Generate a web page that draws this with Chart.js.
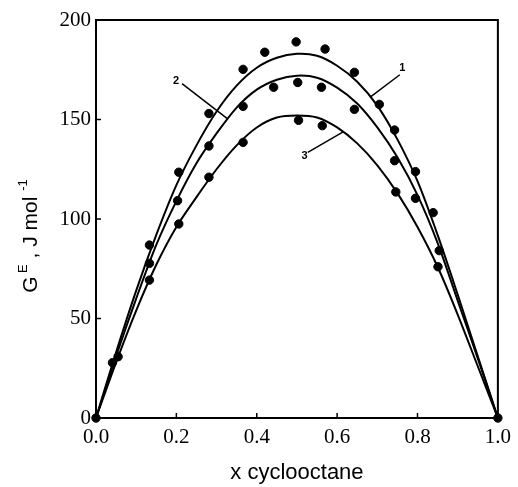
<!DOCTYPE html>
<html>
<head>
<meta charset="utf-8">
<script src="https://cdn.jsdelivr.net/npm/chart.js@4/dist/chart.umd.min.js"></script>
<style>
  html, body { margin: 0; padding: 0; background: #fff; }
  #wrap { width: 518px; height: 487px; }
</style>
</head>
<body>
<div id="wrap"><canvas id="myChart"></canvas></div>
<script>
// mole fraction grid for the fitted curves
const curveX = [0, 0.05, 0.1, 0.15, 0.2, 0.25, 0.3, 0.35, 0.4, 0.45, 0.5, 0.55, 0.6, 0.65, 0.7, 0.75, 0.8, 0.85, 0.9, 0.95, 1.0];
const curve1 = [0, 33, 64, 92, 117, 137, 154, 167, 176, 181, 183, 182, 177, 169, 157, 140, 119, 92, 62, 31, 0];
const curve2 = [0, 31, 60, 87, 109, 128, 143, 156, 165, 170, 172, 171, 166, 158, 146, 131, 112, 88, 59, 30, 0];
const curve3 = [0, 28, 54, 77, 96, 111, 125, 137, 146, 151, 152, 151, 146, 138, 127, 113, 96, 76, 52, 26, 0];

// experimental points
const pts1X = [0, 0.041, 0.133, 0.206, 0.281, 0.366, 0.42, 0.498, 0.570, 0.643, 0.705, 0.743, 0.795, 0.839, 1.0];
const pts1Y = [0, 27.8, 86.9, 123.5, 153, 175.2, 183.8, 189, 185.4, 173.7, 157.6, 144.7, 123.8, 103.2, 0];
const pts2X = [0.133, 0.203, 0.281, 0.366, 0.442, 0.502, 0.561, 0.643, 0.743, 0.795, 0.854];
const pts2Y = [77.7, 109.2, 136.7, 156.6, 166.2, 168.6, 166.2, 155.1, 129.3, 110.4, 84.1];
const pts3X = [0.055, 0.133, 0.206, 0.281, 0.366, 0.504, 0.563, 0.746, 0.851];
const pts3Y = [30.8, 69.3, 97.5, 121, 138.5, 149.6, 146.9, 113.6, 76];

const xTicks = [0, 0.2, 0.4, 0.6, 0.8, 1.0];
const yTicks = [0, 50, 100, 150, 200];

// curve labels: text position and leader line in data units
const curveLabels = [
    { text: '1', x: 0.762, y: 176, from: [0.756, 172.5], to: [0.684, 161.5] },
    { text: '2', x: 0.199, y: 169.5, from: [0.214, 168], to: [0.326, 150.6] },
    { text: '3', x: 0.519, y: 131.6, from: [0.527, 133.5], to: [0.616, 143.9] }
];

function toXY(xs, ys) {
    return xs.map((x, i) => ({ x: x, y: ys[i] }));
}

const lineStyle = {
    type: 'line',
    borderColor: '#000',
    borderWidth: 2,
    pointRadius: 0,
    tension: 0.3,
    fill: false,
    clip: false
};
const pointStyle = {
    type: 'scatter',
    backgroundColor: '#000',
    borderColor: '#000',
    pointRadius: 4.2,
    clip: false
};

const framePlugin = {
    id: 'frame',
    afterDatasetsDraw(chart) {
        const ctx = chart.ctx;
        const a = chart.chartArea;
        const xs = chart.scales.x, ys = chart.scales.y;
        ctx.save();
        ctx.strokeStyle = '#000';
        ctx.lineWidth = 2;
        ctx.strokeRect(a.left, a.top, a.right - a.left, a.bottom - a.top);

        // inward ticks
        ctx.lineWidth = 1.5;
        xTicks.forEach(v => {
            const px = xs.getPixelForValue(v);
            ctx.beginPath();
            ctx.moveTo(px, a.bottom);
            ctx.lineTo(px, a.bottom - 5);
            ctx.stroke();
        });
        yTicks.forEach(v => {
            const py = ys.getPixelForValue(v);
            ctx.beginPath();
            ctx.moveTo(a.left, py);
            ctx.lineTo(a.left + 5, py);
            ctx.stroke();
        });

        // curve labels
        ctx.lineWidth = 1.5;
        ctx.font = 'bold 11px "Liberation Sans", Arial, sans-serif';
        ctx.fillStyle = '#000';
        ctx.textAlign = 'center';
        ctx.textBaseline = 'middle';
        curveLabels.forEach(l => {
            ctx.beginPath();
            ctx.moveTo(xs.getPixelForValue(l.from[0]), ys.getPixelForValue(l.from[1]));
            ctx.lineTo(xs.getPixelForValue(l.to[0]), ys.getPixelForValue(l.to[1]));
            ctx.stroke();
            ctx.fillText(l.text, xs.getPixelForValue(l.x), ys.getPixelForValue(l.y));
        });

        // axis titles
        ctx.font = '22px "Liberation Sans", Arial, sans-serif';
        ctx.textBaseline = 'alphabetic';
        ctx.fillText('x cyclooctane', (a.left + a.right) / 2, 479);

        // y title with superscripts, rotated
        ctx.translate(37, 236);
        ctx.rotate(-Math.PI / 2);
        const parts = [
            { t: 'G', sup: false },
            { t: ' E', sup: true },
            { t: ' , J mol ', sup: false },
            { t: '-1', sup: true }
        ];
        const fMain = '21px "Liberation Sans", Arial, sans-serif';
        const fSup = '13px "Liberation Sans", Arial, sans-serif';
        let total = 0;
        parts.forEach(p => { ctx.font = p.sup ? fSup : fMain; total += ctx.measureText(p.t).width; });
        let cx = -total / 2;
        ctx.textAlign = 'left';
        parts.forEach(p => {
            ctx.font = p.sup ? fSup : fMain;
            ctx.fillText(p.t, cx, p.sup ? -10 : 0);
            cx += ctx.measureText(p.t).width;
        });
        ctx.restore();
    }
};

let myChart = null;

function initChart() {
    const ctx = document.getElementById('myChart').getContext('2d');
    const tickFont = { family: '"Liberation Serif", "Times New Roman", serif', size: 21 };
    myChart = new Chart(ctx, {
        data: {
            datasets: [
                Object.assign({ label: '1', data: toXY(curveX, curve1) }, lineStyle),
                Object.assign({ label: '2', data: toXY(curveX, curve2) }, lineStyle),
                Object.assign({ label: '3', data: toXY(curveX, curve3) }, lineStyle),
                Object.assign({ label: 'exp 1', data: toXY(pts1X, pts1Y) }, pointStyle),
                Object.assign({ label: 'exp 2', data: toXY(pts2X, pts2Y) }, pointStyle),
                Object.assign({ label: 'exp 3', data: toXY(pts3X, pts3Y) }, pointStyle)
            ]
        },
        options: {
            responsive: true,
            maintainAspectRatio: false,
            animation: false,
            layout: {
                padding: { left: 0, right: 17, top: 20, bottom: 0 }
            },
            scales: {
                x: {
                    type: 'linear',
                    min: 0,
                    max: 1,
                    afterFit: s => { s.height = 69; },
                    afterBuildTicks: s => { s.ticks = xTicks.map(v => ({ value: v })); },
                    grid: { display: false, drawTicks: false },
                    border: { display: false },
                    ticks: {
                        padding: 7,
                        color: '#000',
                        font: tickFont,
                        callback: v => v.toFixed(1)
                    }
                },
                y: {
                    min: 0,
                    max: 200,
                    afterFit: s => { s.width = 96; },
                    afterBuildTicks: s => { s.ticks = yTicks.map(v => ({ value: v })); },
                    grid: { display: false, drawTicks: false },
                    border: { display: false },
                    ticks: {
                        padding: 5,
                        color: '#000',
                        font: tickFont
                    }
                }
            },
            plugins: {
                legend: { display: false },
                tooltip: { enabled: false }
            }
        },
        plugins: [framePlugin]
    });
}

document.addEventListener('DOMContentLoaded', () => {
    initChart();
});
</script>
</body>
</html>
